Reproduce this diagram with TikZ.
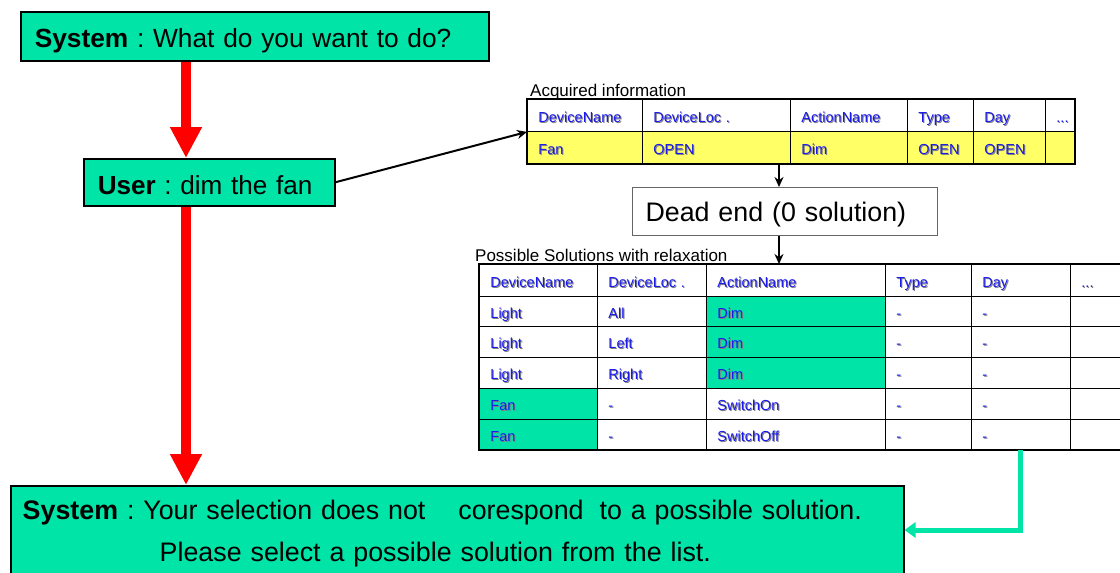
\documentclass[tikz,border=0pt]{standalone}
\usepackage{fontspec}
\setmainfont{Liberation Sans}
\usetikzlibrary{arrows.meta,calc}
\frenchspacing
\definecolor{mint}{RGB}{0,228,168}
\definecolor{lyellow}{RGB}{255,255,102}
\definecolor{tblue}{RGB}{25,25,235}
\newcommand{\shd}[1]{\makebox[0pt][l]{\hspace{1pt}\raisebox{-1pt}{\textcolor{black!50}{#1}}}\textcolor{tblue}{#1}}
\newcommand{\tdots}{...}
\begin{document}
\begin{tikzpicture}[x=1pt,y=-1pt,
  msg/.style={draw=black, line width=1.5pt, fill=mint, font=\fontsize{26.8}{42}\selectfont\frenchspacing, anchor=north west, align=left},
  redarr/.style={draw=red, line width=10pt, -{Triangle[length=31pt,width=30pt]}},
  blk/.style={draw=black, line width=2pt, -{Stealth[length=10pt,width=9pt]}},
  grn/.style={draw=mint, line width=5pt, -{Triangle[length=11pt,width=15pt]}},
  cell/.style={draw=black, line width=0.9pt, anchor=north west, inner xsep=11pt, inner ysep=0pt, align=left, text height=15pt, text depth=1pt, font=\fontsize{14.5}{16}\selectfont},
  lbl/.style={font=\fontsize{17}{19}\selectfont, anchor=base west, inner sep=0pt},
  dead/.style={draw=black!60, line width=1pt, fill=white, anchor=north west, font=\fontsize{26.8}{30}\selectfont, inner xsep=13pt, minimum height=48pt, text width=279pt, text height=25pt, text depth=5pt, align=left}
]
\clip (0,0) rectangle (1120,573);
\fill[white] (0,0) rectangle (1120,573);

% message boxes
\node[msg, font=\fontsize{26.3}{42}\selectfont, inner xsep=14pt, text width=440pt, minimum height=49pt, text height=27pt, text depth=5pt] (sys1) at (20,11) {\mbox{\textbf{System} : What do you want to do?}};
\node[msg, font=\fontsize{26.1}{42}\selectfont, inner xsep=14pt, text width=223pt, minimum height=47pt, text height=28pt, text depth=4.5pt] (user) at (83,158) {\mbox{\textbf{User} : dim the fan}};
\node[msg, inner xsep=12pt, inner ysep=14.5pt, text width=869pt] (sys2) at (10,485) {\textbf{System} : Your selection does not\hspace{33pt}corespond\hspace{16pt}to a possible solution.\\\hspace{137pt}Please select a possible solution from the list.};

% dead end
\node[dead] (dead) at (632,187) {Dead end (0 solution)};

% labels
\node[lbl] (acq) at (530,96) {Acquired information};
\node[lbl] (pos) at (475,261) {Possible Solutions with relaxation};

% table 1
\foreach \x/\w/\f/\t [count=\c] in {527/115/white/DeviceName, 642/148/white/DeviceLoc ., 790/117/white/ActionName, 907/66/white/Type, 973/72/white/Day, 1045/29/white/\tdots}{
  \pgfmathsetmacro\tw{\w-22}
  \node[cell, fill=\f, minimum width=\w, minimum height=32, text width=\tw pt] (t1-1-\c) at (\x,99) {\shd{\t}};
}
\foreach \x/\w/\f/\t [count=\c] in {527/115/lyellow/Fan, 642/148/lyellow/OPEN, 790/117/lyellow/Dim, 907/66/lyellow/OPEN, 973/72/lyellow/OPEN, 1045/29/lyellow/}{
  \pgfmathsetmacro\tw{\w-22}
  \node[cell, fill=\f, minimum width=\w, minimum height=32, text width=\tw pt] (t1-2-\c) at (\x,131) {\shd{\t}};
}
\draw[line width=2.5pt] (t1-1-1.north west) rectangle (t1-2-6.south east);

% table 2
\foreach \x/\w/\f/\t [count=\c] in {479/118/white/DeviceName, 597/109/white/DeviceLoc ., 706/179/white/ActionName, 885/86/white/Type, 971/99/white/Day, 1070/60/white/\tdots}{
  \pgfmathsetmacro\tw{\w-22}
  \node[cell, fill=\f, minimum width=\w, minimum height=32, text width=\tw pt] (t2-1-\c) at (\x,264) {\shd{\t}};
}
\foreach \x/\w/\f/\t [count=\c] in {479/118/white/Light, 597/109/white/All, 706/179/mint/Dim, 885/86/white/-, 971/99/white/-, 1070/60/white/}{
  \pgfmathsetmacro\tw{\w-22}
  \node[cell, fill=\f, minimum width=\w, minimum height=30, text width=\tw pt] (t2-2-\c) at (\x,296) {\shd{\t}};
}
\foreach \x/\w/\f/\t [count=\c] in {479/118/white/Light, 597/109/white/Left, 706/179/mint/Dim, 885/86/white/-, 971/99/white/-, 1070/60/white/}{
  \pgfmathsetmacro\tw{\w-22}
  \node[cell, fill=\f, minimum width=\w, minimum height=31, text width=\tw pt] (t2-3-\c) at (\x,326) {\shd{\t}};
}
\foreach \x/\w/\f/\t [count=\c] in {479/118/white/Light, 597/109/white/Right, 706/179/mint/Dim, 885/86/white/-, 971/99/white/-, 1070/60/white/}{
  \pgfmathsetmacro\tw{\w-22}
  \node[cell, fill=\f, minimum width=\w, minimum height=31, text width=\tw pt] (t2-4-\c) at (\x,357) {\shd{\t}};
}
\foreach \x/\w/\f/\t [count=\c] in {479/118/mint/Fan, 597/109/white/-, 706/179/white/SwitchOn, 885/86/white/-, 971/99/white/-, 1070/60/white/}{
  \pgfmathsetmacro\tw{\w-22}
  \node[cell, fill=\f, minimum width=\w, minimum height=31, text width=\tw pt] (t2-5-\c) at (\x,388) {\shd{\t}};
}
\foreach \x/\w/\f/\t [count=\c] in {479/118/mint/Fan, 597/109/white/-, 706/179/white/SwitchOff, 885/86/white/-, 971/99/white/-, 1070/60/white/}{
  \pgfmathsetmacro\tw{\w-22}
  \node[cell, fill=\f, minimum width=\w, minimum height=30, text width=\tw pt] (t2-6-\c) at (\x,419) {\shd{\t}};
}
\draw[line width=2.5pt] (t2-1-1.north west) rectangle (t2-6-6.south east);

% connectors
\coordinate (rx) at (186,0);
\coordinate (ax) at (779,0);
\coordinate (gx) at (1020,0);
\coordinate (gy) at (0,530);
\draw[redarr] (sys1.south -| rx) -- (user.north -| rx);
\draw[redarr] (user.south -| rx) -- (sys2.north -| rx);
\draw[blk] (user.east) -- (t1-1-1.south west);
\draw[blk] (t1-2-2.south -| ax) -- (dead.north -| ax);
\draw[blk] (dead.south -| ax) -- (t2-1-1.north -| ax);
\draw[grn] (t2-6-1.south -| gx) |- (sys2.east |- gy);
\end{tikzpicture}
\end{document}
